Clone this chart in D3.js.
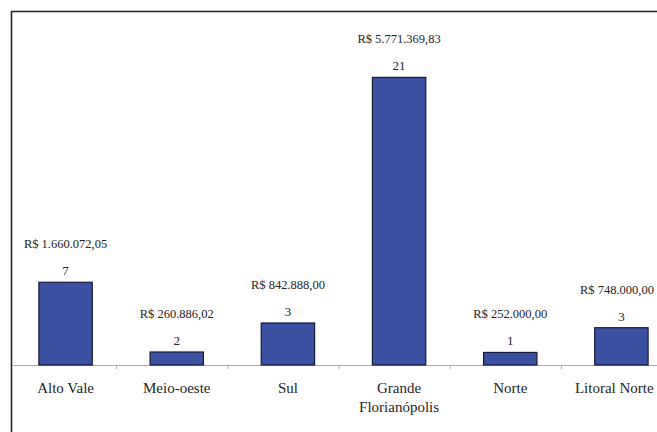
<!DOCTYPE html>
<html>
<head>
<meta charset="utf-8">
<script src="https://cdn.jsdelivr.net/npm/d3@7"></script>
<style>
  html, body { margin: 0; padding: 0; background: #fff; }
  svg { display: block; }
  svg text { font-family: "Liberation Serif", "Times New Roman", Tinos, serif; }
</style>
</head>
<body>
<svg id="chart" width="657" height="432"></svg>
<script>
// Regions of Santa Catarina: number of projects and total amount (R$)
const categories = ["Alto Vale", "Meio-oeste", "Sul", "Grande Florianópolis", "Norte", "Litoral Norte"];
const amounts = [1660072.05, 260886.02, 842888.00, 5771369.83, 252000.00, 748000.00];
const counts = [7, 2, 3, 21, 1, 3];
const amountLabels = ["R$ 1.660.072,05", "R$ 260.886,02", "R$ 842.888,00", "R$ 5.771.369,83", "R$ 252.000,00", "R$ 748.000,00"];
const categoryLines = [["Alto Vale"], ["Meio-oeste"], ["Sul"], ["Grande", "Florianópolis"], ["Norte"], ["Litoral Norte"]];

const W = 657, H = 432;
const baseY = 365;
const svg = d3.select("#chart");

const x = d3.scaleBand()
  .domain(categories)
  .range([10, 677])
  .paddingInner(0.52)
  .paddingOuter(0.26);

const y = d3.scaleLinear()
  .domain([0, 6000000])
  .range([baseY, 66]);

const textColor = "#252525";

// Outer frame (top and left edges)
svg.append("path")
  .attr("d", `M11.5,${H} V11.5 H${W}`)
  .attr("fill", "none")
  .attr("stroke", "#262626")
  .attr("stroke-width", 1.6);

// Category axis
const axis = svg.append("g");
axis.append("line")
  .attr("x1", 12).attr("x2", W)
  .attr("y1", baseY + 0.5).attr("y2", baseY + 0.5)
  .attr("stroke", "#a8a8a8").attr("stroke-width", 1);

const tickShift = -5;
axis.selectAll("line.tick")
  .data(categories.slice(1))
  .join("line")
  .attr("class", "tick")
  .attr("x1", d => x(d) - x.step() * x.paddingInner() / 2 + tickShift + 0.5)
  .attr("x2", d => x(d) - x.step() * x.paddingInner() / 2 + tickShift + 0.5)
  .attr("y1", baseY)
  .attr("y2", baseY + 4)
  .attr("stroke", "#a8a8a8");

// Bars
const data = categories.map((c, i) => ({ c, v: amounts[i], n: counts[i], label: amountLabels[i], lines: categoryLines[i] }));

svg.selectAll("rect.bar")
  .data(data)
  .join("rect")
  .attr("class", "bar")
  .attr("x", d => x(d.c))
  .attr("y", d => y(d.v))
  .attr("width", x.bandwidth())
  .attr("height", d => y(0) - y(d.v))
  .attr("fill", "#3a51a2")
  .attr("stroke", "#14183a")
  .attr("stroke-width", 1.2);

// Count labels
svg.selectAll("text.count")
  .data(data)
  .join("text")
  .attr("class", "count")
  .attr("x", d => x(d.c) + x.bandwidth() / 2)
  .attr("y", d => y(d.v) - 7)
  .attr("text-anchor", "middle")
  .attr("font-size", 13)
  .attr("fill", textColor)
  .text(d => d.n);

// Amount labels
svg.selectAll("text.amount")
  .data(data)
  .join("text")
  .attr("class", "amount")
  .attr("x", d => x(d.c) + x.bandwidth() / 2)
  .attr("y", d => y(d.v) - 34)
  .attr("text-anchor", "middle")
  .attr("font-size", 12.5)
  .attr("fill", textColor)
  .text(d => d.label);

// Category names
const names = svg.selectAll("text.cat")
  .data(data)
  .join("text")
  .attr("class", "cat")
  .attr("text-anchor", "middle")
  .attr("font-size", 15)
  .attr("fill", textColor);

names.selectAll("tspan")
  .data(d => d.lines.map(t => ({ t, cx: x(d.c) + x.bandwidth() / 2 })))
  .join("tspan")
  .attr("x", d => d.cx)
  .attr("y", (d, i) => baseY + 28 + i * 18.5)
  .text(d => d.t);

// Keep labels inside the right edge
svg.selectAll("text").each(function () {
  const b = this.getBBox();
  const over = b.x + b.width - (W - 3);
  if (over > 0) {
    d3.select(this).attr("transform", `translate(${-over},0)`);
  }
});
</script>
</body>
</html>
